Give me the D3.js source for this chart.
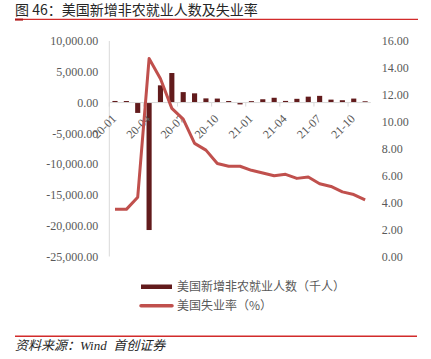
<!DOCTYPE html>
<html>
<head>
<meta charset="utf-8">
<script src="https://cdn.jsdelivr.net/npm/d3@7"></script>
<style>
  body { margin: 0; background: #fff; }
  svg { display: block; }
</style>
</head>
<body>
<div id="chart"></div>
<script>
// months 2020-01 .. 2021-11
const months = ["20-01","20-02","20-03","20-04","20-05","20-06","20-07","20-08","20-09","20-10","20-11","20-12",
                "21-01","21-02","21-03","21-04","21-05","21-06","21-07","21-08","21-09","21-10","21-11"];
// 美国新增非农就业人数（千人）
const payrolls = [260, 250, -1680, -20700, 2800, 4800, 1700, 1500, 680, 650, 250, -300,
                  230, 540, 780, 270, 610, 960, 1090, 480, 380, 650, 210];
// 美国失业率（%）
const unemp = [3.5, 3.5, 4.4, 14.7, 13.2, 11.0, 10.2, 8.4, 7.9, 6.9, 6.7, 6.7,
               6.4, 6.2, 6.0, 6.1, 5.8, 5.9, 5.4, 5.2, 4.8, 4.6, 4.2];
const leftTicks = [10000, 5000, 0, -5000, -10000, -15000, -20000, -25000];
const rightTicks = [16, 14, 12, 10, 8, 6, 4, 2, 0];
const labelMonths = ["20-01","20-04","20-07","20-10","21-01","21-04","21-07","21-10"];

const title = "图 46：美国新增非农就业人数及失业率";
const source = "资料来源：Wind  首创证券";

const width = 431, height = 359;
const plot = {left: 109.3, right: 370.8, top: 41, bottom: 256.5};
const red = "#d22b2b", barColor = "#621b1c", lineColor = "#c0504d", grey = "#595959";
const serif = "'Liberation Serif','Times New Roman',serif";
const cjk = "'Noto Sans CJK SC',sans-serif";

const fmt = d3.formatLocale({decimal: ".", thousands: ",", grouping: [3], currency: ["", ""], minus: "-"}).format(",.2f");

const svg = d3.select("#chart").append("svg")
  .attr("width", width).attr("height", height);

svg.append("rect").attr("width", width).attr("height", height).attr("fill", "#fff");

// title
svg.append("text")
  .attr("x", 15).attr("y", 15)
  .attr("font-family", cjk).attr("font-size", 14)
  .attr("fill", "#262626")
  .text(title);
svg.append("line").attr("x1", 15).attr("x2", 418).attr("y1", 19.3).attr("y2", 19.3)
  .attr("stroke", red).attr("stroke-width", 1.3);
svg.append("rect").attr("x", 15).attr("y", 18.6).attr("width", 8).attr("height", 2)
  .attr("fill", "#b01818");

// scales
const x = d3.scaleBand().domain(months).range([plot.left, plot.right]);
const yL = d3.scaleLinear().domain([-25000, 10000]).range([plot.bottom, plot.top]);
const yR = d3.scaleLinear().domain([0, 16]).range([plot.bottom, plot.top]);

// left axis
const gL = svg.append("g").attr("transform", `translate(${plot.left},0)`)
  .call(d3.axisLeft(yL).tickValues(leftTicks).tickSize(0).tickPadding(11).tickFormat(fmt));
gL.select(".domain").remove();
gL.selectAll("text").attr("font-family", serif).attr("font-size", 12).attr("fill", grey);
svg.append("line").attr("x1", plot.left).attr("x2", plot.left)
  .attr("y1", plot.top).attr("y2", plot.bottom)
  .attr("stroke", "#d9d9d9").attr("stroke-width", 1);

// right axis
const gR = svg.append("g").attr("transform", `translate(${plot.right},0)`)
  .call(d3.axisRight(yR).tickValues(rightTicks).tickSize(0).tickPadding(11).tickFormat(d3.format(".2f")));
gR.select(".domain").remove();
gR.selectAll("text").attr("font-family", serif).attr("font-size", 12).attr("fill", grey);

// bars
const bw = x.bandwidth() * 0.45;
svg.append("g").selectAll("rect")
  .data(months)
  .join("rect")
  .attr("x", (m) => x(m) + x.bandwidth() / 2 - bw / 2)
  .attr("width", bw)
  .attr("y", (m, i) => yL(Math.max(0, payrolls[i])))
  .attr("height", (m, i) => Math.abs(yL(payrolls[i]) - yL(0)))
  .attr("fill", barColor);

// zero baseline + category ticks
const y0 = yL(0);
svg.append("line").attr("x1", plot.left).attr("x2", plot.right).attr("y1", y0).attr("y2", y0)
  .attr("stroke", "#d9d9d9").attr("stroke-width", 1);
svg.append("g").selectAll("line")
  .data(labelMonths)
  .join("line")
  .attr("x1", (m) => x(m)).attr("x2", (m) => x(m))
  .attr("y1", y0).attr("y2", y0 + 4)
  .attr("stroke", "#d9d9d9");
svg.append("g").selectAll("text")
  .data(labelMonths)
  .join("text")
  .attr("transform", (m) => `translate(${x(m) + x.bandwidth() / 2 + 2},${y0 + 17}) rotate(-45)`)
  .attr("text-anchor", "end")
  .attr("font-family", serif).attr("font-size", 12).attr("fill", grey)
  .text((m) => m);

// unemployment line
const line = d3.line()
  .x((d, i) => x(months[i]) + x.bandwidth() / 2)
  .y((d) => yR(d));
svg.append("path").datum(unemp)
  .attr("d", line)
  .attr("fill", "none")
  .attr("stroke", lineColor).attr("stroke-width", 3)
  .attr("stroke-linejoin", "round");

// legend
const lg = svg.append("g");
lg.append("rect").attr("x", 141).attr("y", 284.5).attr("width", 31).attr("height", 4.5).attr("fill", barColor);
lg.append("text").attr("x", 177).attr("y", 287).attr("dy", "0.35em")
  .attr("font-family", cjk).attr("font-size", 12).attr("fill", grey)
  .text("美国新增非农就业人数（千人）");
lg.append("line").attr("x1", 141).attr("x2", 172).attr("y1", 305.7).attr("y2", 305.7)
  .attr("stroke", lineColor).attr("stroke-width", 3.5).attr("stroke-linecap", "round");
lg.append("text").attr("x", 177).attr("y", 306).attr("dy", "0.35em")
  .attr("font-family", cjk).attr("font-size", 12).attr("fill", grey)
  .text("美国失业率（%）");

// source
svg.append("line").attr("x1", 15).attr("x2", 417).attr("y1", 336.3).attr("y2", 336.3)
  .attr("stroke", red).attr("stroke-width", 1.5);
svg.append("text")
  .attr("x", 15).attr("y", 350)
  .attr("font-family", "'Liberation Serif','Noto Sans CJK SC',serif")
  .attr("font-style", "italic").attr("font-size", 13)
  .attr("fill", "#262626")
  .attr("xml:space", "preserve")
  .style("white-space", "pre")
  .text(source);
</script>
</body>
</html>
